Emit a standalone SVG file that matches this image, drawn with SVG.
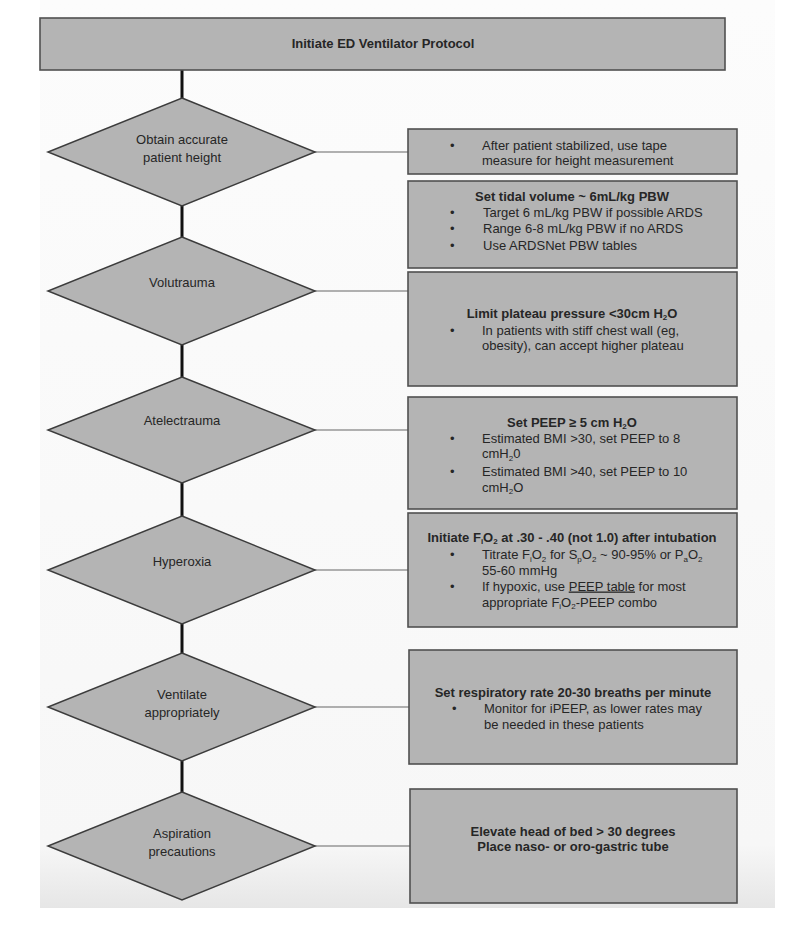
<svg xmlns="http://www.w3.org/2000/svg" width="790" height="930" viewBox="0 0 790 930">
<defs>
<linearGradient id="bg" x1="0" y1="0" x2="0" y2="1">
<stop offset="0" stop-color="#fcfcfc"/>
<stop offset="0.93" stop-color="#f7f7f7"/>
<stop offset="1" stop-color="#e6e6e6"/>
</linearGradient>
<style>
.box{fill:#b4b4b4;stroke:#505050;stroke-width:1.6}
.dia{fill:#b4b4b4;stroke:#3c3c3c;stroke-width:1.5}
.t{font-family:"Liberation Sans",Arial,sans-serif;font-size:13px;fill:#262626}
.b{font-weight:bold}
.m{text-anchor:middle}
.s{font-size:8px}
.thick{stroke:#111;stroke-width:3;fill:none}
.thin{stroke:#666;stroke-width:1.2;fill:none}
</style>
</defs>
<rect x="0" y="0" width="790" height="930" fill="#ffffff"/>
<rect x="40" y="0" width="735" height="908" fill="url(#bg)"/>

<g id="connectors">
<line class="thick" x1="182" y1="70" x2="182" y2="98"/>
<line class="thick" x1="182" y1="206" x2="182" y2="237"/>
<line class="thick" x1="182" y1="345" x2="182" y2="377"/>
<line class="thick" x1="182" y1="483" x2="182" y2="516"/>
<line class="thick" x1="182" y1="624" x2="182" y2="653"/>
<line class="thick" x1="182" y1="761" x2="182" y2="792"/>
<line class="thin" x1="314" y1="152" x2="408" y2="152"/>
<line class="thin" x1="314" y1="291" x2="408" y2="291"/>
<line class="thin" x1="314" y1="430" x2="408" y2="430"/>
<line class="thin" x1="314" y1="570" x2="408" y2="570"/>
<line class="thin" x1="314" y1="707" x2="409" y2="707"/>
<line class="thin" x1="314" y1="846" x2="410" y2="846"/>
</g>

<g id="start">
<rect class="box" x="40" y="18" width="685" height="52"/>
<text class="t b m" x="383" y="47.5">Initiate ED Ventilator Protocol</text>
</g>

<g id="d1">
<polygon class="dia" points="182,98 315,152 182,206 48,152"/>
<text class="t m" x="182" y="143.5">Obtain accurate</text>
<text class="t m" x="182" y="161.5">patient height</text>
</g>
<g id="d2">
<polygon class="dia" points="182,237 315,291 182,345 48,291"/>
<text class="t m" x="182" y="286.5">Volutrauma</text>
</g>
<g id="d3">
<polygon class="dia" points="182,377 315,430 182,483 48,430"/>
<text class="t m" x="182" y="424.5">Atelectrauma</text>
</g>
<g id="d4">
<polygon class="dia" points="182,516 315,570 182,624 48,570"/>
<text class="t m" x="182" y="565.5">Hyperoxia</text>
</g>
<g id="d5">
<polygon class="dia" points="182,653 315,707 182,761 48,707"/>
<text class="t m" x="182" y="698.5">Ventilate</text>
<text class="t m" x="182" y="716.5">appropriately</text>
</g>
<g id="d6">
<polygon class="dia" points="182,792 315,846 182,900 48,846"/>
<text class="t m" x="182" y="837.5">Aspiration</text>
<text class="t m" x="182" y="855.5">precautions</text>
</g>

<g id="b1">
<rect class="box" x="408" y="129" width="329" height="45"/>
<text class="t" x="450" y="149.5">•</text>
<text class="t" x="482" y="149.5">After patient stabilized, use tape</text>
<text class="t" x="482" y="164.5">measure for height measurement</text>
</g>
<g id="b2">
<rect class="box" x="408" y="181" width="329" height="87"/>
<text class="t b m" x="572" y="200.5">Set tidal volume ~ 6mL/kg PBW</text>
<text class="t" x="450" y="216.5">•</text>
<text class="t" x="483" y="216.5">Target 6 mL/kg PBW if possible ARDS</text>
<text class="t" x="450" y="233">•</text>
<text class="t" x="483" y="233">Range 6-8 mL/kg PBW if no ARDS</text>
<text class="t" x="450" y="249.5">•</text>
<text class="t" x="483" y="249.5">Use ARDSNet PBW tables</text>
</g>
<g id="b3">
<rect class="box" x="408" y="272" width="329" height="114"/>
<text class="t b m" x="572" y="317.5">Limit plateau pressure &lt;30cm H<tspan class="s" dy="2.5">2</tspan><tspan dy="-2.5">O</tspan></text>
<text class="t" x="450" y="334.5">•</text>
<text class="t" x="482" y="334.5">In patients with stiff chest wall (eg,</text>
<text class="t" x="482" y="350">obesity), can accept higher plateau</text>
</g>
<g id="b4">
<rect class="box" x="408" y="397" width="329" height="112"/>
<text class="t b m" x="572" y="426.5">Set PEEP ≥ 5 cm H<tspan class="s" dy="2.5">2</tspan><tspan dy="-2.5">O</tspan></text>
<text class="t" x="450" y="442.5">•</text>
<text class="t" x="482" y="442.5">Estimated BMI &gt;30, set PEEP to 8</text>
<text class="t" x="482" y="458">cmH<tspan class="s" dy="2.5">2</tspan><tspan dy="-2.5">0</tspan></text>
<text class="t" x="450" y="475.5">•</text>
<text class="t" x="482" y="475.5">Estimated BMI &gt;40, set PEEP to 10</text>
<text class="t" x="482" y="491.5">cmH<tspan class="s" dy="2.5">2</tspan><tspan dy="-2.5">O</tspan></text>
</g>
<g id="b5">
<rect class="box" x="408" y="513" width="329" height="114"/>
<text class="t b m" x="572" y="541.5">Initiate F<tspan class="s" dy="2.5">i</tspan><tspan dy="-2.5">O</tspan><tspan class="s" dy="2.5">2</tspan><tspan dy="-2.5"> at .30 - .40 (not 1.0) after intubation</tspan></text>
<text class="t" x="450" y="559">•</text>
<text class="t" x="482" y="559">Titrate F<tspan class="s" dy="2.5">i</tspan><tspan dy="-2.5">O</tspan><tspan class="s" dy="2.5">2</tspan><tspan dy="-2.5"> for S</tspan><tspan class="s" dy="2.5">p</tspan><tspan dy="-2.5">O</tspan><tspan class="s" dy="2.5">2</tspan><tspan dy="-2.5">  ~ 90-95% or P</tspan><tspan class="s" dy="2.5">a</tspan><tspan dy="-2.5">O</tspan><tspan class="s" dy="2.5">2</tspan></text>
<text class="t" x="482" y="575">55-60 mmHg</text>
<text class="t" x="450" y="590.5">•</text>
<text class="t" x="482" y="590.5">If hypoxic, use <tspan text-decoration="underline">PEEP table</tspan> for most</text>
<text class="t" x="482" y="606.5">appropriate F<tspan class="s" dy="2.5">i</tspan><tspan dy="-2.5">O</tspan><tspan class="s" dy="2.5">2</tspan><tspan dy="-2.5">-PEEP combo</tspan></text>
</g>
<g id="b6">
<rect class="box" x="409" y="650" width="328" height="114"/>
<text class="t b m" x="573" y="696.5">Set respiratory rate 20-30 breaths per minute</text>
<text class="t" x="452" y="712.5">•</text>
<text class="t" x="484" y="712.5">Monitor for iPEEP, as lower rates may</text>
<text class="t" x="484" y="728.5">be needed in these patients</text>
</g>
<g id="b7">
<rect class="box" x="410" y="789" width="327" height="114"/>
<text class="t b m" x="573" y="835.5">Elevate head of bed &gt; 30 degrees</text>
<text class="t b m" x="573" y="850.5">Place naso- or oro-gastric tube</text>
</g>
</svg>
